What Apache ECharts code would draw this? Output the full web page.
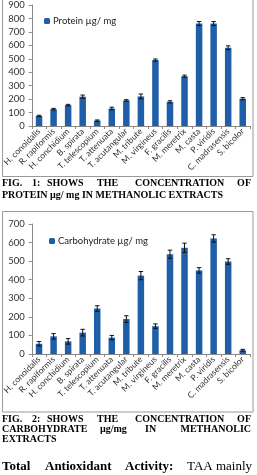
<!DOCTYPE html>
<html>
<head>
<meta charset="utf-8">
<script src="https://cdn.jsdelivr.net/npm/echarts@6/dist/echarts.min.js"></script>
<style>
html,body{margin:0;padding:0;background:#fff;}
#main{width:257px;height:475px;}
</style>
</head>
<body>
<div id="main"></div>
<script>
var species = ['H. conoidalis','R. rapiformis','H. conchidium','B. spirata','T. telescopium','T. attenuata','T. acutangular','M. tribute','M. virgineus','F. gracilis','M. meretrix','M. casta','P. viridis','C. madrasensis','S. bicolor'];
var protein = [75, 125, 155, 218, 40, 130, 190, 220, 490, 180, 370, 762, 762, 582, 203];
var proteinErr = [5, 6, 6, 12, 5, 10, 6, 18, 8, 8, 8, 15, 15, 14, 8];
var carbo = [55, 95, 68, 115, 245, 88, 188, 422, 150, 537, 572, 450, 622, 498, 20];
var carboErr = [12, 15, 15, 18, 15, 12, 18, 22, 12, 22, 25, 15, 20, 15, 5];
var proteinTicks = [0, 900, 100];
var carboTicks = [0, 700, 100];

var blue = '#1f5ea8';
var chartFont = 'Lato';

function errorSeries(vals, errs, idx){
    return {
        type: 'custom',
        xAxisIndex: idx, yAxisIndex: idx,
        silent: true, z: 5,
        data: vals.map(function(v, i){ return [i, v - errs[i], v + errs[i]]; }),
        renderItem: function(params, api){
            var lo = api.coord([api.value(0), api.value(1)]);
            var hi = api.coord([api.value(0), api.value(2)]);
            var w = 2.2;
            var st = {stroke: '#111', lineWidth: 1};
            return {type: 'group', children: [
                {type: 'line', shape: {x1: hi[0], y1: hi[1], x2: lo[0], y2: lo[1]}, style: st},
                {type: 'line', shape: {x1: hi[0]-w, y1: hi[1], x2: hi[0]+w, y2: hi[1]}, style: st},
                {type: 'line', shape: {x1: lo[0]-w, y1: lo[1], x2: lo[0]+w, y2: lo[1]}, style: st}
            ]};
        }
    };
}

function xAxis(idx){
    return {
        type: 'category', gridIndex: idx, data: species,
        axisLine: {lineStyle: {color: '#888'}},
        axisTick: {show: true, alignWithLabel: false, length: 3, lineStyle: {color: '#888'}},
        axisLabel: {rotate: 45, fontSize: 8.5, color: '#333', fontFamily: chartFont, margin: 4, interval: 0}
    };
}
function yAxis(idx, t){
    return {
        type: 'value', gridIndex: idx, min: t[0], max: t[1], interval: t[2],
        splitLine: {show: false},
        axisLine: {show: true, lineStyle: {color: '#888'}},
        axisTick: {show: true, length: 3, lineStyle: {color: '#888'}},
        axisLabel: {fontSize: 9.5, color: '#333', fontFamily: chartFont, margin: 7}
    };
}

// caption lines: [words, x positions, y, font, align of last word]
var capFont = 'bold 10px "Liberation Serif"';
var captions = [
    [['FIG.','1:','SHOWS','THE','CONCENTRATION','OF'], [2,32,47,97,135,251], 183, capFont, 'right'],
    [['PROTEIN µg/ mg IN METHANOLIC EXTRACTS'], [2], 195, capFont, 'left'],
    [['FIG.','2:','SHOWS','THE','CONCENTRATION','OF'], [2,32,47,97,135,251], 419, capFont, 'right'],
    [['CARBOHYDRATE','µg/mg','IN','METHANOLIC'], [2,100,145,251], 429, capFont, 'right'],
    [['EXTRACTS'], [2], 439, capFont, 'left'],
    [['Total','Antioxidant','Activity:'], [2,45,125], 467, 'bold 13px "Liberation Serif"', 'left'],
    [['TAA','mainly'], [187,252], 467, '13px "Liberation Serif"', 'right']
];
var graphics = [
    {type: 'rect', shape: {x: 2.5, y: -2, width: 250.5, height: 178.5}, style: {fill: null, stroke: '#999', lineWidth: 1}},
    {type: 'rect', shape: {x: 2.5, y: 211.5, width: 250.5, height: 200.5}, style: {fill: null, stroke: '#999', lineWidth: 1}}
];
captions.forEach(function(c){
    c[0].forEach(function(w, i){
        var last = i === c[0].length - 1 && c[0].length > 1;
        graphics.push({type: 'text', x: c[1][i], y: c[2], style: {
            text: w, font: c[3], fill: '#000', textVerticalAlign: 'middle',
            textAlign: last ? c[4] : 'left'}});
    });
});

var chart = echarts.init(document.getElementById('main'));
chart.setOption({
    animation: false,
    grid: [
        {left: 30, right: 7, top: 5, height: 121},
        {left: 30, right: 7, top: 224, height: 130}
    ],
    legend: [
        {data: ['Protein µg/ mg'], left: 39, top: 11, itemWidth: 6, itemHeight: 6, itemGap: 3,
         textStyle: {fontSize: 9.5, color: '#222', fontFamily: chartFont, padding: [0,0,0,-2]}},
        {data: ['Carbohydrate µg/ mg'], left: 44, top: 231, itemWidth: 6, itemHeight: 6,
         textStyle: {fontSize: 9.5, color: '#222', fontFamily: chartFont, padding: [0,0,0,-2]}}
    ],
    xAxis: [xAxis(0), xAxis(1)],
    yAxis: [yAxis(0, proteinTicks), yAxis(1, carboTicks)],
    series: [
        {name: 'Protein µg/ mg', type: 'bar', xAxisIndex: 0, yAxisIndex: 0, data: protein, barWidth: 6.5, itemStyle: {color: blue}},
        errorSeries(protein, proteinErr, 0),
        {name: 'Carbohydrate µg/ mg', type: 'bar', xAxisIndex: 1, yAxisIndex: 1, data: carbo, barWidth: 6.5, itemStyle: {color: blue}},
        errorSeries(carbo, carboErr, 1)
    ],
    graphic: graphics
});
</script>
</body>
</html>
